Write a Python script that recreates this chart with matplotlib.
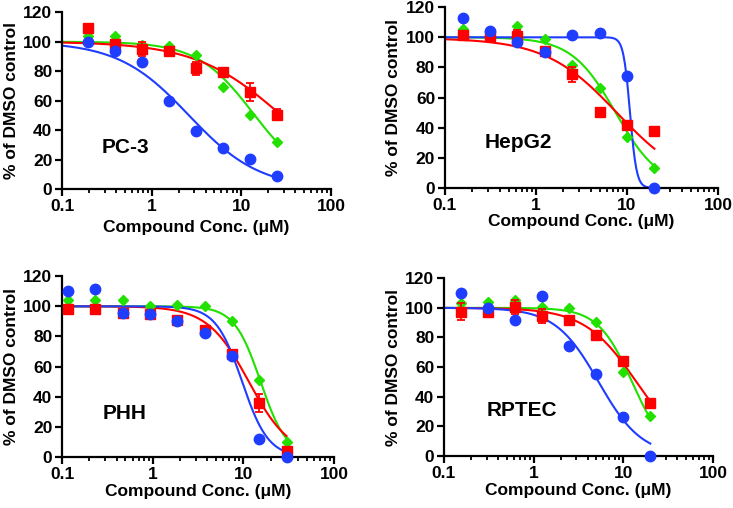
import numpy as np
import matplotlib
matplotlib.use("Agg")
import matplotlib.pyplot as plt
from matplotlib.ticker import LogLocator, FixedLocator, NullFormatter

plt.rcParams['font.family'] = ['Liberation Sans', 'DejaVu Sans']
plt.rcParams['font.weight'] = 'bold'

# --- data ---
# PC-3
pc3_conc = [0.195, 0.39, 0.78, 1.56, 3.125, 6.25, 12.5, 25]
pc3_blue = [99.5, 93.5, 86, 59.5, 39.5, 28, 20.5, 8.5]
pc3_green = [104, 104, 98, 97, 91, 69.5, 50.5, 32]
pc3_red = [109.5, 98.5, 95, 93.5, 82, 79.5, 66, 50.5]
pc3_red_err = [1, 2, 5, 2, 4.5, 2, 6, 3.5]

# HepG2
hep_conc = [0.156, 0.3125, 0.625, 1.25, 2.5, 5, 10, 20]
hep_blue = [113, 104, 97, 90, 101.5, 102.5, 74, 0]
hep_green = [105.5, 103, 107.5, 99, 81.5, 66, 34, 13]
hep_red = [101.5, 100.5, 100.5, 91, 75.5, 50.5, 42, 38]
hep_red_err = [1.5, 2.5, 4.5, 2.5, 5, 2, 1, 2]

# PHH
phh_conc = [0.117, 0.234, 0.469, 0.9375, 1.875, 3.75, 7.5, 15, 30]
phh_blue = [110, 111.5, 95.5, 95, 90.5, 82, 67, 12, 0]
phh_green = [104, 104, 104, 100.5, 101, 100, 90.5, 51, 10]
phh_red = [98.5, 98.5, 95.5, 95, 91, 84, 68.5, 36, 4]
phh_red_err = [1, 1, 1, 1, 1, 1.5, 2, 6, 2]

# RPTEC
rpt_conc = [0.156, 0.3125, 0.625, 1.25, 2.5, 5, 10, 20]
rpt_blue = [110, 100, 91.5, 108, 74, 55.5, 26, 0]
rpt_green = [103, 104, 105, 100.5, 100, 90.5, 56.5, 27]
rpt_red = [97.5, 97.5, 100.5, 94.5, 92, 81.5, 64, 36]
rpt_red_err = [6, 3, 4.5, 4.5, 1.5, 1.5, 1, 1]

# fitted curve parameters (top, bottom, IC50, Hill slope)
pc3_fits = {'blue': (100, 0, 2.6, 1.1), 'green': (100, 3, 13.5, 1.4), 'red': (100, 0, 28, 0.9)}
hep_fits = {'blue': (100, 0, 10.8, 12), 'green': (100, 0, 7.5, 1.8), 'red': (99.5, 0, 7.8, 1.1)}
phh_fits = {'blue': (100, 0, 9.7, 3.0), 'green': (100, 0, 15.5, 3.0), 'red': (100, 0, 11.5, 1.9)}
rpt_fits = {'blue': (100, 0, 5.3, 1.8), 'green': (100, 0, 12.5, 2.3), 'red': (100, 0, 14, 1.5)}

colors = {'blue': '#1f3dff', 'green': '#22e000', 'red': '#ff0000'}


def hill(x, top, bottom, ic50, slope):
    return bottom + (top - bottom) / (1 + (x / ic50) ** slope)


def panel(ax, name, conc, blue, green, red, red_err, fits, label_pos, xlab_y):
    xs = np.logspace(-1, np.log10(conc[-1]), 300)
    for key in ['green', 'red', 'blue']:
        ax.plot(xs, hill(xs, *fits[key]), color=colors[key], lw=1.5, zorder=2)
    ax.plot(conc, green, 'D', color=colors['green'], ms=5.5, mec=colors['green'],
            clip_on=False, zorder=3)
    ax.errorbar(conc, red, yerr=red_err, fmt='s', color=colors['red'], ms=7,
                capsize=3, elinewidth=1.3, capthick=1.3, clip_on=False, zorder=4)
    ax.plot(conc, blue, 'o', color=colors['blue'], ms=7.5, clip_on=False, zorder=5)

    ax.set_xscale('log')
    ax.set_xlim(0.1, 100)
    ax.set_ylim(0, 120)
    ax.xaxis.set_major_locator(FixedLocator([0.1, 1, 10, 100]))
    ax.set_xticklabels(['0.1', '1', '10', '100'])
    ax.xaxis.set_minor_locator(LogLocator(base=10, subs=np.arange(2, 10)))
    ax.xaxis.set_minor_formatter(NullFormatter())
    ax.set_yticks([0, 20, 40, 60, 80, 100, 120])

    for s in ['top', 'right']:
        ax.spines[s].set_visible(False)
    for s in ['left', 'bottom']:
        ax.spines[s].set_linewidth(1.6)
    ax.tick_params(which='major', length=5, width=1.6, labelsize=12.5, pad=2)
    ax.tick_params(which='minor', length=3, width=1.3)
    for lab in ax.get_xticklabels() + ax.get_yticklabels():
        lab.set_fontweight('bold')

    ax.set_xlabel('Compound Conc. (\u03bcM)', fontsize=12.5, fontweight='bold')
    ax.set_ylabel('% of DMSO control', fontsize=12.5, fontweight='bold')
    ax.xaxis.set_label_coords(0.5, xlab_y)
    ax.yaxis.set_label_coords(-0.16, 0.5)
    ax.text(label_pos[0], label_pos[1], name, transform=ax.transAxes,
            fontsize=15, fontweight='bold', va='center', ha='left')


fig = plt.figure(figsize=(7.33, 5.08), dpi=100)
ax1 = fig.add_axes([0.0846, 0.628, 0.367, 0.348])
ax2 = fig.add_axes([0.607, 0.630, 0.3725, 0.356])
ax3 = fig.add_axes([0.0846, 0.1004, 0.371, 0.356])
ax4 = fig.add_axes([0.6057, 0.1024, 0.367, 0.350])

panel(ax1, 'PC-3', pc3_conc, pc3_blue, pc3_green, pc3_red, pc3_red_err, pc3_fits, (0.149, 0.237), -0.175)
panel(ax2, 'HepG2', hep_conc, hep_blue, hep_green, hep_red, hep_red_err, hep_fits, (0.147, 0.249), -0.145)
panel(ax3, 'PHH', phh_conc, phh_blue, phh_green, phh_red, phh_red_err, phh_fits, (0.151, 0.243), -0.149)
panel(ax4, 'RPTEC', rpt_conc, rpt_blue, rpt_green, rpt_red, rpt_red_err, rpt_fits, (0.16, 0.253), -0.152)

fig.savefig('out.png', dpi=100)
